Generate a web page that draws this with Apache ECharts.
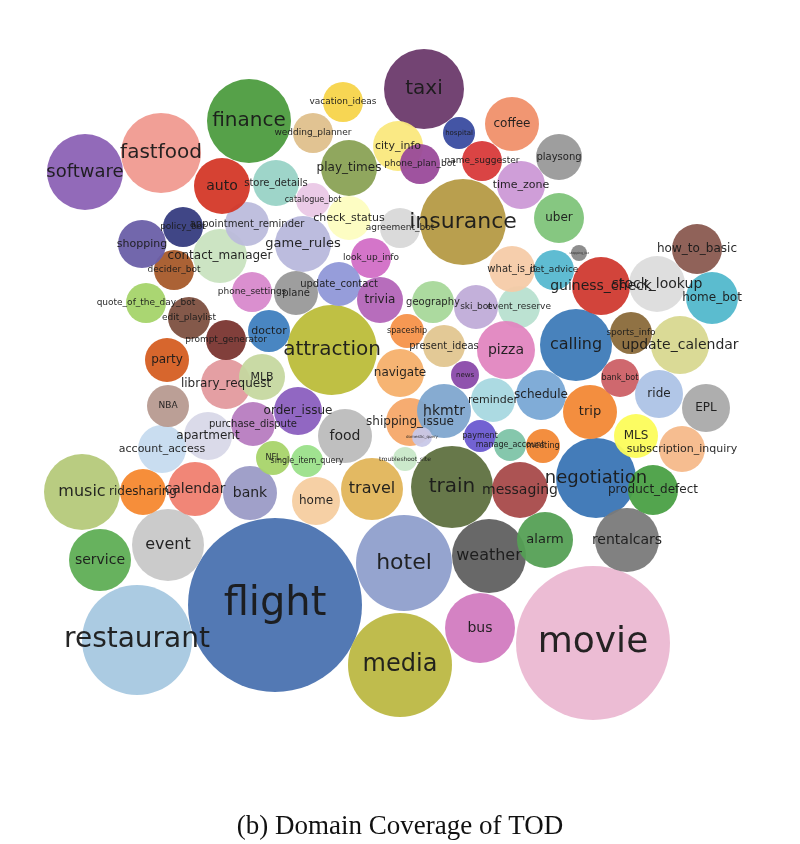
<!DOCTYPE html>
<html><head><meta charset="utf-8">
<script src="https://cdn.jsdelivr.net/npm/echarts@6/dist/echarts.min.js"></script>
<style>html,body{margin:0;padding:0;background:#fff}#c{width:800px;height:844px}</style>
</head><body><div id="c"></div>
<script>
const names=['flight','movie','restaurant','media','hotel','attraction','insurance','negotiation','train','taxi','finance','fastfood','software','music','weather','calling','event','bus','rentalcars','service','messaging','alarm','travel','bank','calendar','ridesharing','home','food','shipping_issue','hkmtr','navigate','order_issue','purchase_dispute','apartment','account_access','NBA','library_request','MLB','party','NFL','single_item_query','prompt_generator','doctor','edit_playlist','quote_of_the_day_bot','decider_bot','shopping','policy_bot','contact_manager','appointment_reminder','game_rules','auto','store_details','catalogue_bot','check_status','play_times','wedding_planner','vacation_ideas','city_info','phone_plan_bot','hospital','name_suggester','coffee','playsong','time_zone','uber','agreement_bot','look_up_info','plane','phone_settings','update_contact','trivia','geography','ski_bot','event_reserve','what_is_it','pet_advice','shopping_list','guiness_check','stock_lookup','how_to_basic','home_bot','sports_info','update_calendar','spaceship','present_ideas','pizza','news','reminder','schedule','trip','bank_bot','ride','EPL','MLS','subscription_inquiry','product_defect','payment','manage_account','meeting','domestic_query','troubleshoot_site'];
const cx=[275,593,137,400,404,332,463,596,452,424,249,161,85,82,489,576,168,480,627,100,520,545,372,250,195,143,316,345,410,444,400,298,253,208,162,168,226,262,167,273,307,226,269,189,146,174,142,183,220,247,303,222,276,313,349,349,313,343,398,420,459,482,512,559,521,559,400,371,296,252,339,380,433,476,519,512,554,579,601,657,697,712,631,680,407,444,506,465,493,541,590,620,659,706,636,682,653,480,510,543,422,405];
const cy=[605,643,640,665,563,350,222,478,487,89,121,153,172,492,556,345,545,628,540,560,490,540,489,493,489,492,501,436,422,411,373,411,424,436,449,406,384,377,360,458,461,340,331,318,303,270,244,227,256,224,244,186,183,200,218,168,133,102,146,164,133,161,124,157,185,218,228,258,293,292,284,300,302,307,307,269,270,253,286,284,249,298,333,345,331,346,350,375,400,395,412,378,394,408,436,449,490,436,445,446,437,459];
const radius=[87,77,55,52,48,45,43,40,41,40,42,40,38,38,37,36,36,35,32,31,28,28,31,27,27,23,24,27,24,27,24,24,22,24,24,21,25,23,22,17,16,20,21,21,20,20,24,20,27,22,28,28,23,17,22,28,20,20,25,20,16,20,27,23,24,25,20,20,22,20,22,23,21,22,21,23,20,8,29,28,25,26,21,29,17,21,29,14,22,25,27,19,24,24,22,23,25,16,16,17,10,12];
const fonts=[40,36,28,24,22,20,22,18,20,20,20,20,18,16,16,16,16,14,14,14,14,13,16,14,14,12,12,14,12,14,12,12,10,12,11,9,12,11,12,8,8,9,11,9,9,9,11,9,12,10,13,14,10,8,11,12,9,9,11,9,7,9,12,10,11,12,9,9,10,9,10,12,10,9,9,10,9,3,14,14,12,12,9,14,8,10,14,7,11,12,13,8,12,12,12,11,12,8,8,8,4,6];
const colors=['#4a72b0','#ebb8d2','#a6c8e0','#bcb843','#8f9fcc','#bcbd3a','#b59a45','#3a75b5','#5f7140','#6c3a6c','#4d9c3f','#f09a90','#8c62b5','#b5c97a','#606060','#3e7bb8','#c8c8c8','#d27bc0','#7a7a7a','#5fae55','#a84a4a','#55a055','#e1b55a','#9b9bc6','#f08070','#f5882f','#f5cda0','#bcbcbc','#f5a869','#7fa7cf','#f5b06c','#8b5fbf','#b77cc0','#d8d8e8','#c6dbef','#b79a90','#e39a9e','#c6d8a0','#d55e22','#a8d46a','#9be08a','#7a3530','#3f7fbf','#7d5040','#a5d46a','#a65a2a','#6a5fa8','#363c80','#c9e3c0','#bcbcdc','#b8b8dc','#d43828','#99d3c6','#eac8e6','#fdfdc0','#8aa255','#dfc08c','#f7d44a','#fae87d','#9a4a9a','#3a4ca0','#d83a3a','#f0906a','#999999','#cc99d6','#7fc47a','#d8d8d8','#d26ec6','#999999','#d889cc','#9098d8','#b365b8','#a8d89a','#c0acd8','#b8e0d0','#f5cba8','#56b8d0','#888888','#d03a30','#dcdcdc','#8a5a50','#52b8cc','#8a6a3a','#d8d890','#f5924a','#e2c690','#e286c0','#8a4aaa','#a8d8e0','#79a8d5','#f28835','#cc6066','#adc3e6','#aaaaaa','#fcfc5a','#f5b98a','#4aa045','#6a5ad0','#7ec4a8','#f28835','#c8c8e8','#c8e8c8'];
const data=names.map((n,i)=>({name:n,value:[cx[i],cy[i],radius[i]],symbolSize:radius[i]*2,
 itemStyle:{color:colors[i]},label:{fontSize:fonts[i]}}));
const chart=echarts.init(document.getElementById('c'),null,{renderer:'canvas'});
chart.setOption({
 animation:false,
 title:{text:'(b) Domain Coverage of TOD',left:'center',top:808,textStyle:{fontFamily:'Liberation Serif',fontWeight:'normal',fontSize:27,color:'#111'}},
 grid:{left:0,right:0,top:0,bottom:0},
 xAxis:{type:'value',min:0,max:800,show:false},
 yAxis:{type:'value',min:0,max:844,inverse:true,show:false},
 series:[{type:'scatter',data:data,
  itemStyle:{opacity:0.95},
  label:{show:true,position:'inside',formatter:'{b}',color:'#1a1a1a',fontFamily:'DejaVu Sans'},
  labelLayout:{hideOverlap:false}}]
});
</script></body></html>
